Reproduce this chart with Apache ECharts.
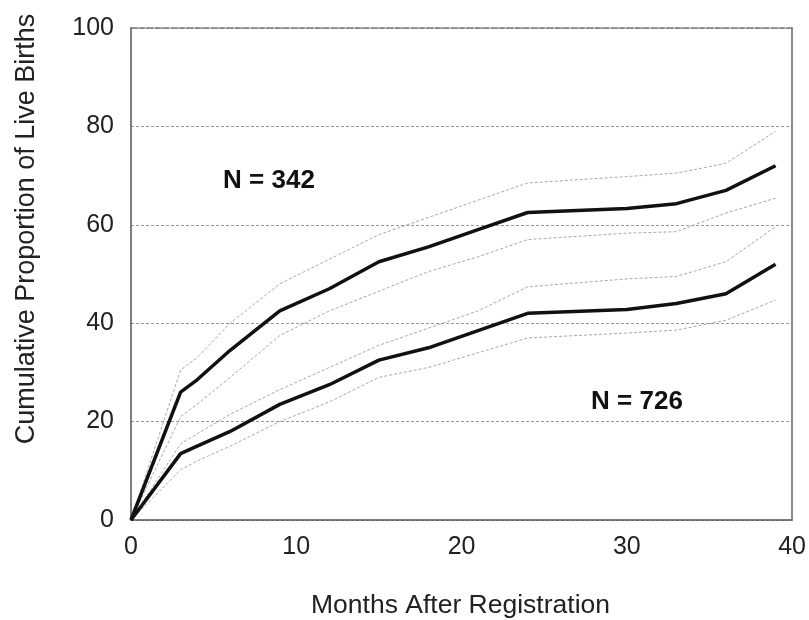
<!DOCTYPE html>
<html>
<head>
<meta charset="utf-8">
<script src="https://cdn.jsdelivr.net/npm/echarts@6/dist/echarts.min.js"></script>
<style>
html,body{margin:0;padding:0;background:#fff;}
#chart{width:809px;height:620px;}
</style>
</head>
<body>
<div id="chart"></div>
<script>
// Months after registration
var months = [0, 3, 4, 6, 9, 12, 15, 18, 21, 24, 30, 33, 36, 39];
// N = 342 group
var upperMain = [0, 26, 28.5, 34.5, 42.5, 47, 52.5, 55.5, 59, 62.5, 63.3, 64.3, 67, 72];
var upperHigh = [0, 30.5, 33, 40, 48, 53, 58, 61.5, 65, 68.5, 69.8, 70.5, 72.5, 79];
var upperLow  = [0, 21, 23.5, 29, 37.5, 42.5, 46.5, 50.5, 53.5, 57, 58.3, 58.6, 62.4, 65.4];
// N = 726 group
var lowerMain = [0, 13.5, 15, 18, 23.5, 27.5, 32.5, 35, 38.5, 42, 42.8, 44, 46, 52];
var lowerHigh = [0, 15.5, 17.5, 21.5, 26.5, 31, 35.5, 39, 42.5, 47.4, 49, 49.5, 52.5, 59.6];
var lowerLow  = [0, 10.2, 12, 15, 20, 24, 29, 31, 34, 37, 38, 38.6, 40.6, 44.7];
// Axis ticks
var xTicks = [0, 10, 20, 30, 40];
var yTicks = [0, 20, 40, 60, 80, 100];

function pairs(xs, ys) { return xs.map(function (x, i) { return [x, ys[i]]; }); }

var font = "'Liberation Sans', Arial, sans-serif";
var chart = echarts.init(document.getElementById('chart'), null, {renderer: 'canvas'});

function ciSeries(name, data) {
  return {
    name: name, type: 'line', data: pairs(months, data), symbol: 'none', silent: true,
    lineStyle: {color: '#a8a8a8', width: 1, type: [3, 2]}, z: 2
  };
}
function mainSeries(name, data) {
  return {
    name: name, type: 'line', data: pairs(months, data), symbol: 'none', silent: true,
    lineStyle: {color: '#111', width: 3.5}, z: 3
  };
}

chart.setOption({
  animation: false,
  backgroundColor: '#fff',
  grid: {left: 131, top: 28, right: 15, bottom: 100},
  xAxis: [{
    type: 'value', min: xTicks[0], max: xTicks[xTicks.length - 1], interval: 10,
    axisLine: {show: true, lineStyle: {color: '#555', width: 1.5}},
    axisTick: {show: false},
    splitLine: {show: false},
    axisLabel: {color: '#222', fontSize: 25, fontFamily: font, margin: 15}
  }, {
    type: 'value', position: 'top', min: 0, max: 40, interval: 10,
    axisLine: {show: true, onZero: false, lineStyle: {color: '#777', width: 1.5, type: [6, 2]}},
    axisTick: {show: false}, axisLabel: {show: false}, splitLine: {show: false}
  }],
  yAxis: [{
    type: 'value', min: yTicks[0], max: yTicks[yTicks.length - 1], interval: 20,
    axisLine: {show: true, lineStyle: {color: '#555', width: 1.5}},
    axisTick: {show: false},
    splitLine: {show: true, lineStyle: {color: '#999', width: 1, type: [3, 2]}},
    axisLabel: {color: '#222', fontSize: 25, fontFamily: font, margin: 17}
  }, {
    type: 'value', position: 'right', min: 0, max: 100, interval: 20,
    axisLine: {show: true, onZero: false, lineStyle: {color: '#666', width: 1.5}},
    axisTick: {show: false}, axisLabel: {show: false}, splitLine: {show: false}
  }],
  graphic: [
    {type: 'text', left: 311, top: 592, style: {text: 'Months After Registration', fill: '#222', font: '26.5px ' + font}},
    {type: 'text', x: 27, y: 229, rotation: Math.PI / 2, style: {text: 'Cumulative Proportion of Live Births', fill: '#222', font: '27px ' + font, align: 'center', verticalAlign: 'middle'}},
    {type: 'text', x: 269, y: 181, style: {text: 'N = 342', fill: '#111', font: 'bold 26px ' + font, align: 'center', verticalAlign: 'middle'}},
    {type: 'text', x: 637, y: 402, style: {text: 'N = 726', fill: '#111', font: 'bold 26px ' + font, align: 'center', verticalAlign: 'middle'}}
  ],
  series: [
    ciSeries('upperHigh', upperHigh),
    ciSeries('upperLow', upperLow),
    ciSeries('lowerHigh', lowerHigh),
    ciSeries('lowerLow', lowerLow),
    mainSeries('N = 342', upperMain),
    mainSeries('N = 726', lowerMain)
  ]
});
</script>
</body>
</html>
